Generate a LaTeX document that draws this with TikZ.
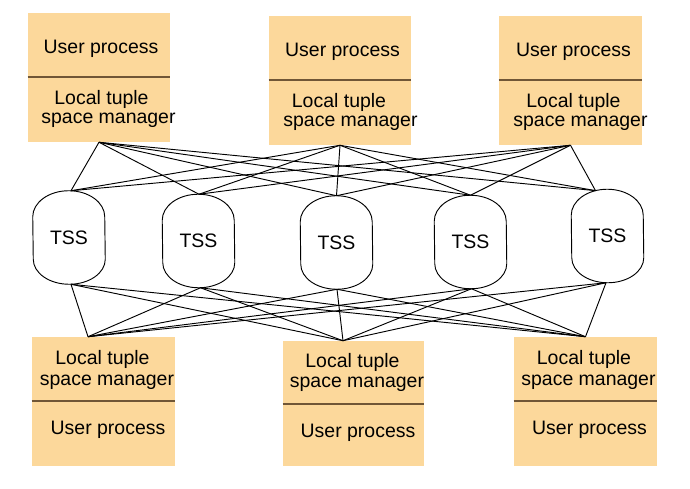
\documentclass[tikz,border=0pt]{standalone}
\usepackage{fontspec}
\setmainfont{Liberation Sans}
\usetikzlibrary{calc}
\definecolor{boxfill}{RGB}{252,216,155}
\definecolor{divcol}{RGB}{112,86,54}
\begin{document}
\begin{tikzpicture}[x=0.75pt,y=-0.75pt,
  part/.style 2 args={fill=boxfill, inner sep=0, minimum width={#1*0.75pt}, minimum height={#2*0.75pt}},
  divider/.style={draw=divcol, line width=1.4pt},
  txt/.style={inner sep=0, yshift=-1.9pt, font=\fontsize{14.6}{17}\selectfont},
  tssbox/.style={inner sep=0, minimum width=54pt, minimum height={93*0.75pt}, font=\fontsize{14.6}{17}\selectfont},
  tssline/.style={draw=black, line width=0.7pt},
  conn/.style={draw=black, line width=0.7pt}]
\fill[white] (0,0) rectangle (690,489);
\useasboundingbox (0,0) rectangle (690,489);

% ---- top boxes ----
\node[part={142}{64}] (tlU) at (99,45) {};
\node[part={142}{65}] (tlL) at (99,109.5) {};
\node[part={142}{64}] (tmU) at (340,48) {};
\node[part={142}{65}] (tmL) at (340,112.5) {};
\node[part={143}{64}] (trU) at (570.5,48) {};
\node[part={143}{65}] (trL) at (570.5,112.5) {};
% ---- bottom boxes ----
\node[part={143}{64}] (blU) at (103.5,369) {};
\node[part={143}{65}] (blL) at (103.5,433.5) {};
\node[part={141}{63}] (bmU) at (353.5,372.5) {};
\node[part={141}{62}] (bmL) at (353.5,435) {};
\node[part={143}{64}] (brU) at (585.5,369) {};
\node[part={143}{65}] (brL) at (585.5,433.5) {};

\foreach \p in {tlU,tmU,trU,blU,bmU,brU}
  \draw[divider] (\p.south west) -- (\p.south east);

% ---- texts ----
\node[txt] (tlA) at (101,46) {User process};
\node[txt] (tlB) at (101.5,97) {Local tuple};
\node[txt] (tlC) at (108.5,118) {space manager};
\node[txt] (tmA) at (342.5,49) {User process};
\node[txt] (tmB) at (339,100) {Local tuple};
\node[txt] (tmC) at (350.5,121) {space manager};
\node[txt] (trA) at (573.5,49) {User process};
\node[txt] (trB) at (573.5,100) {Local tuple};
\node[txt] (trC) at (580.5,121) {space manager};
\node[txt] (blB) at (102.5,357) {Local tuple};
\node[txt] (blC) at (107,380) {space manager};
\node[txt] (blA) at (108,427) {User process};
\node[txt] (bmB) at (352.5,360) {Local tuple};
\node[txt] (bmC) at (357,382) {space manager};
\node[txt] (bmA) at (358,430) {User process};
\node[txt] (brB) at (584,357) {Local tuple};
\node[txt] (brC) at (588.5,380) {space manager};
\node[txt] (brA) at (589.5,427) {User process};

% ---- TSS nodes ----
\node[tssbox] (t1) at (69,237.5) {TSS};
\node[tssbox] (t2) at (198.5,241) {TSS};
\node[tssbox] (t3) at (336.5,242.5) {TSS};
\node[tssbox] (t4) at (470.5,242) {TSS};
\node[tssbox] (t5) at (607.5,236) {TSS};
\foreach \n in {t1,t2,t3,t4,t5}
  \draw[tssline] ($(\n.north west)+(0,26)$) arc[start angle=180,end angle=0,x radius=27pt,y radius=19.5pt]
    -- ($(\n.south east)+(0,-25)$) arc[start angle=0,end angle=-180,x radius=27pt,y radius=18.75pt] -- cycle;

% ---- connection points ----
\coordinate (t1n) at ($(t1.north)+(2,0)$);
\coordinate (t2n) at ($(t2.north)+(0.5,0)$);
\coordinate (t3n) at ($(t3.north)+(0,0)$);
\coordinate (t4n) at ($(t4.north)+(0,0)$);
\coordinate (t5n) at ($(t5.north)+(-12,1.4)$);
\coordinate (t1s) at ($(t1.south)+(2,0)$);
\coordinate (t2s) at ($(t2.south)+(2,0)$);
\coordinate (t3s) at ($(t3.south)+(0.5,0)$);
\coordinate (t4s) at ($(t4.south)+(1,0)$);
\coordinate (t5s) at ($(t5.south)+(-1.5,0)$);
\coordinate (blc) at ($(blU.north)+(-15.5,0)$);
\coordinate (bmc) at ($(bmU.north)+(-10.5,0)$);
\coordinate (brc) at ($(brU.north)+(0,0)$);

% ---- connectors ----
\foreach \b in {tlL,tmL,trL}
  \foreach \t in {1,...,5}
    \draw[conn] (\b.south) -- (t\t n);
\foreach \b in {blc,bmc,brc}
  \foreach \t in {1,...,5}
    \draw[conn] (\b) -- (t\t s);
\end{tikzpicture}
\end{document}
